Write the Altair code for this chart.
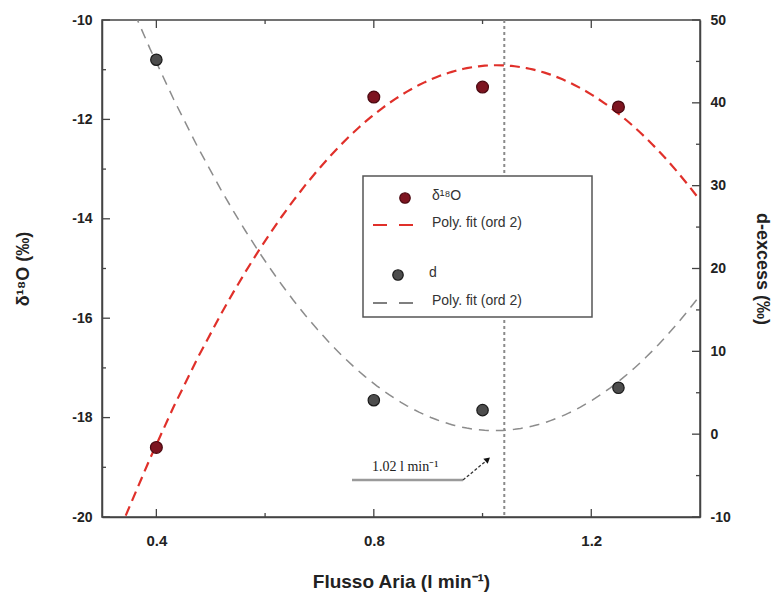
import altair as alt
import pandas as pd

# ---- data ----
flow = [0.4, 0.8, 1.0, 1.25]
d18o = [-18.6, -11.55, -11.35, -11.75]
dexc = [45.2, 4.1, 2.9, 5.6]
opt_flow = [1.04]
opt_label = ["1.02 l min\u207b\u00b9"]
x_major = [0.4, 0.8, 1.2]
x_minor = [0.6, 1.0]
yl_major = [-20, -18, -16, -14, -12, -10]
yl_minor = [-19, -17, -15, -13, -11]
yr_major = [-10, 0, 10, 20, 30, 40, 50]
yr_minor = [-5, 5, 15, 25, 35, 45]
legend_labels = ["\u03b4\u00b9\u2078O", "Poly. fit (ord 2)", "d", "Poly. fit (ord 2)"]

W, H = 598, 497
FONT = "Liberation Sans"
AXC = "#444444"
RED_FILL, RED_STROKE, RED_LINE = "#7d1420", "#4a0810", "#e0302a"
GRAY_FILL, GRAY_STROKE, GRAY_LINE = "#4d4d4d", "#1a1a1a", "#8c8c8c"

xs = alt.Scale(domain=[0.3, 1.4], nice=False, zero=False)
yls = alt.Scale(domain=[-20, -10], nice=False, zero=False)
yrs = alt.Scale(domain=[-10, 50], nice=False, zero=False)

df_o = pd.DataFrame({"flow": flow, "d18o": d18o})
df_d = pd.DataFrame({"flow": flow, "dexc": dexc})

x_axis = alt.Axis(values=x_major, format=".1f", tickSize=0, labelPadding=16,
                  labelFontSize=15,
                  title="Flusso Aria (l min\u207b\u00b9)", titlePadding=24,
                  titleFontSize=19, grid=False)
yl_axis = alt.Axis(values=yl_major, labelExpr="datum.value + ''", tickSize=0,
                   labelPadding=10, title="\u03b4\u00b9\u2078O (\u2030)",
                   titlePadding=39, grid=False, orient="left")
yr_axis = alt.Axis(values=yr_major, labelExpr="datum.value + ''", tickSize=0,
                   labelPadding=10, title="d-excess (\u2030)", titlePadding=22,
                   grid=False, orient="right")


def X(field):
    # every layer carries the same x axis definition so the shared axis merges cleanly
    return alt.X(field, scale=xs, axis=x_axis)


def xticks(vals, length, top):
    c = alt.Chart(pd.DataFrame({"v": vals})).mark_rule(color=AXC, strokeWidth=1.3)
    if top:
        return c.encode(x=X("v:Q"), y=alt.value(0), y2=alt.value(length))
    return c.encode(x=X("v:Q"), y=alt.value(H - length), y2=alt.value(H))


def yticks(vals, length, scale, right):
    c = alt.Chart(pd.DataFrame({"v": vals})).mark_rule(color=AXC, strokeWidth=1.3)
    if right:
        return c.encode(y=alt.Y("v:Q", scale=scale, axis=None), x=alt.value(W - length), x2=alt.value(W))
    return c.encode(y=alt.Y("v:Q", scale=scale, axis=None), x=alt.value(0), x2=alt.value(length))


red_fit = alt.Chart(df_o).transform_regression(
    "flow", "d18o", method="poly", order=2, extent=[0.3, 1.4]
).mark_line(clip=True, color=RED_LINE, strokeDash=[10, 6], strokeWidth=2.2).encode(
    x=X("flow:Q"),
    y=alt.Y("d18o:Q", scale=yls, axis=None),
)
red_pts = alt.Chart(df_o).mark_point(
    filled=True, size=140, color=RED_FILL, stroke=RED_STROKE, strokeWidth=1.2, opacity=1
).encode(
    x=X("flow:Q"),
    y=alt.Y("d18o:Q", scale=yls, axis=yl_axis),
)
gray_fit = alt.Chart(df_d).transform_regression(
    "flow", "dexc", method="poly", order=2, extent=[0.3, 1.4]
).mark_line(clip=True, color=GRAY_LINE, strokeDash=[10, 7], strokeWidth=1.5).encode(
    x=X("flow:Q"),
    y=alt.Y("dexc:Q", scale=yrs, axis=None),
)
gray_pts = alt.Chart(df_d).mark_point(
    filled=True, size=130, color=GRAY_FILL, stroke=GRAY_STROKE, strokeWidth=1.2, opacity=1
).encode(
    x=X("flow:Q"),
    y=alt.Y("dexc:Q", scale=yrs, axis=yr_axis),
)

vline = alt.Chart(pd.DataFrame({"v": opt_flow})).mark_rule(
    color="#8a8a8a", strokeWidth=2, strokeDash=[3, 3]
).encode(x=X("v:Q"), y=alt.value(0), y2=alt.value(H))

one = pd.DataFrame({"t": opt_label})
ann_text = alt.Chart(one).mark_text(
    font="Liberation Serif", fontSize=14, align="left", baseline="middle", color="#222"
).encode(text="t:N", x=alt.value(270), y=alt.value(447))
ann_under = alt.Chart(one).mark_rule(color="#9a9a9a", strokeWidth=2.5).encode(
    x=alt.value(250), x2=alt.value(361), y=alt.value(460), y2=alt.value(460))
ann_conn = alt.Chart(one).mark_rule(color="#333", strokeWidth=1.3, strokeDash=[3, 2]).encode(
    x=alt.value(361), x2=alt.value(384), y=alt.value(460), y2=alt.value(441))
ann_head = alt.Chart(one).mark_point(
    shape="triangle", filled=True, size=45, color="#111", angle=50, opacity=1
).encode(x=alt.value(385), y=alt.value(440))


def legend_text(label, x, y):
    return alt.Chart(pd.DataFrame({"t": [label]})).mark_text(
        font=FONT, fontSize=14, align="left", baseline="middle", color="#333"
    ).encode(text="t:N", x=alt.value(x), y=alt.value(y))


def legend_dash(color, width, y):
    return alt.Chart(one).mark_rule(color=color, strokeWidth=width, strokeDash=[14, 12]).encode(
        x=alt.value(271), x2=alt.value(313), y=alt.value(y), y2=alt.value(y))


def legend_pt(fill, stroke, x, y):
    return alt.Chart(one).mark_point(
        filled=True, size=110, color=fill, stroke=stroke, strokeWidth=1.2, opacity=1
    ).encode(x=alt.value(x), y=alt.value(y))


box = alt.Chart(one).mark_rect(fill="white", stroke="#555", strokeWidth=1.5).encode(
    x=alt.value(261), x2=alt.value(490), y=alt.value(156), y2=alt.value(297))

layers = [
    vline, red_fit, gray_fit,
    xticks(x_major, 8, False), xticks(x_minor, 4, False),
    xticks(x_major, 8, True), xticks(x_minor, 4, True),
    yticks(yl_major, 8, yls, False), yticks(yl_minor, 4, yls, False),
    yticks(yr_major, 8, yrs, True), yticks(yr_minor, 4, yrs, True),
    red_pts, gray_pts,
    ann_under, ann_conn, ann_head, ann_text,
    box,
    legend_pt(RED_FILL, RED_STROKE, 303, 178), legend_text(legend_labels[0], 330, 176),
    legend_dash(RED_LINE, 2.2, 205), legend_text(legend_labels[1], 330, 203),
    legend_pt(GRAY_FILL, GRAY_STROKE, 296, 255), legend_text(legend_labels[2], 327, 253),
    legend_dash("#555", 1.5, 283), legend_text(legend_labels[3], 330, 281),
]

chart = alt.layer(*layers).resolve_scale(y="independent").properties(
    width=W, height=H,
    autosize=alt.AutoSizeParams(type="none"),
    padding={"left": 102, "top": 20, "right": 74, "bottom": 84},
    background="white",
).configure_view(stroke=AXC, strokeWidth=1.5).configure_axis(
    domainColor=AXC, domainWidth=1.5,
    labelFont=FONT, labelFontSize=14, labelFontWeight="bold", labelColor="#222",
    titleFont=FONT, titleFontSize=18, titleFontWeight="bold", titleColor="#222",
)

chart.save("out.html", embed_options={"renderer": "svg", "actions": False})
